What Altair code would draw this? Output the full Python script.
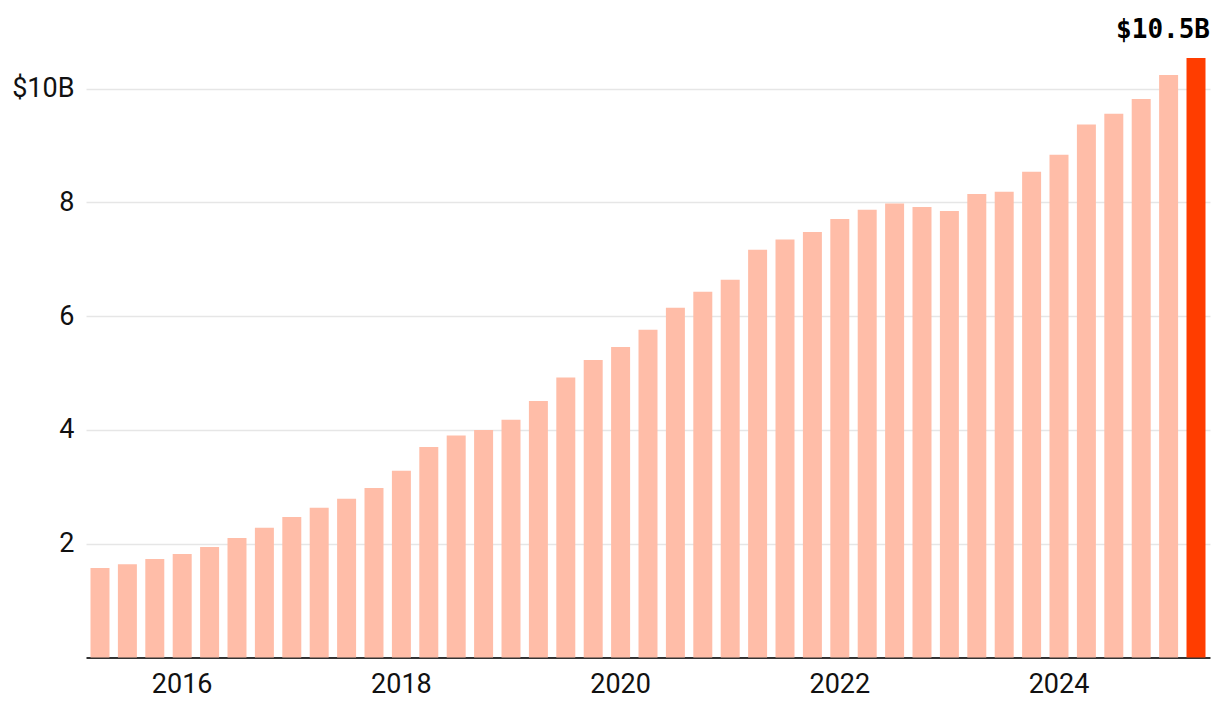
import altair as alt
import pandas as pd

quarters = [
    "2015 Q2", "2015 Q3", "2015 Q4",
    "2016 Q1", "2016 Q2", "2016 Q3", "2016 Q4",
    "2017 Q1", "2017 Q2", "2017 Q3", "2017 Q4",
    "2018 Q1", "2018 Q2", "2018 Q3", "2018 Q4",
    "2019 Q1", "2019 Q2", "2019 Q3", "2019 Q4",
    "2020 Q1", "2020 Q2", "2020 Q3", "2020 Q4",
    "2021 Q1", "2021 Q2", "2021 Q3", "2021 Q4",
    "2022 Q1", "2022 Q2", "2022 Q3", "2022 Q4",
    "2023 Q1", "2023 Q2", "2023 Q3", "2023 Q4",
    "2024 Q1", "2024 Q2", "2024 Q3", "2024 Q4",
    "2025 Q1", "2025 Q2",
]
values = [
    1.57, 1.64, 1.73, 1.82, 1.94, 2.10, 2.28, 2.47, 2.63, 2.79, 2.98, 3.28,
    3.70, 3.90, 4.00, 4.18, 4.51, 4.92, 5.23, 5.46, 5.76, 6.15, 6.43, 6.64,
    7.17, 7.35, 7.48, 7.71, 7.87, 7.98, 7.92, 7.85, 8.15, 8.19, 8.54, 8.84,
    9.37, 9.56, 9.82, 10.24, 10.54,
]
year_ticks = ["2016 Q1", "2018 Q1", "2020 Q1", "2022 Q1", "2024 Q1"]
y_ticks = [2, 4, 6, 8, 10]

latest = [False] * (len(values) - 1) + [True]
df = pd.DataFrame({"quarter": quarters, "value": values, "latest": latest})
last_df = pd.DataFrame({
    "quarter": [quarters[-1]],
    "value": [values[-1]],
    "label": [f"${values[-1]:.1f}B"],
})

W = 1124
H = 599.4
FONT = "Roboto"

x_enc = alt.X(
    "quarter:N",
    sort=None,
    scale=alt.Scale(paddingInner=0.307, paddingOuter=0.164),
    axis=alt.Axis(
        values=year_ticks,
        labelExpr="slice(datum.value, 0, 4)",
        labelAngle=0,
        ticks=False,
        domain=True,
        domainColor="#333333",
        domainWidth=2,
        labelFont=FONT,
        labelFontSize=27,
        labelColor="#111111",
        labelPadding=14,
        grid=False,
        title=None,
    ),
)
y_enc = alt.Y(
    "value:Q",
    scale=alt.Scale(domain=[0, values[-1]], nice=False),
    axis=alt.Axis(
        values=y_ticks,
        format="d",
        labelExpr="datum.value == 10 ? '$10B' : datum.label",
        ticks=False,
        domain=False,
        grid=True,
        gridColor="#e6e6e6",
        gridWidth=1.5,
        labelFont=FONT,
        labelFontSize=27,
        labelColor="#111111",
        labelPadding=12,
        title=None,
    ),
)

bars = alt.Chart(df).mark_bar().encode(
    x=x_enc,
    y=y_enc,
    color=alt.condition("datum.latest", alt.value("#ff3d00"), alt.value("#ffbda8")),
)

label = alt.Chart(last_df).mark_text(
    align="right",
    baseline="alphabetic",
    dy=-20,
    font="DejaVu Sans Mono",
    fontWeight="bold",
    fontSize=26,
    color="#000000",
).encode(
    x=alt.value(W),
    y=alt.Y("value:Q"),
    text="label:N",
)

chart = alt.layer(bars, label).properties(
    width=W,
    height=H,
    autosize=alt.AutoSizeParams(type="none"),
    padding={"left": 78, "top": 50, "right": 2, "bottom": 50},
).configure(background="white").configure_view(stroke=None, strokeWidth=0)

chart.save("out.html", embed_options={"renderer": "svg", "actions": False})
